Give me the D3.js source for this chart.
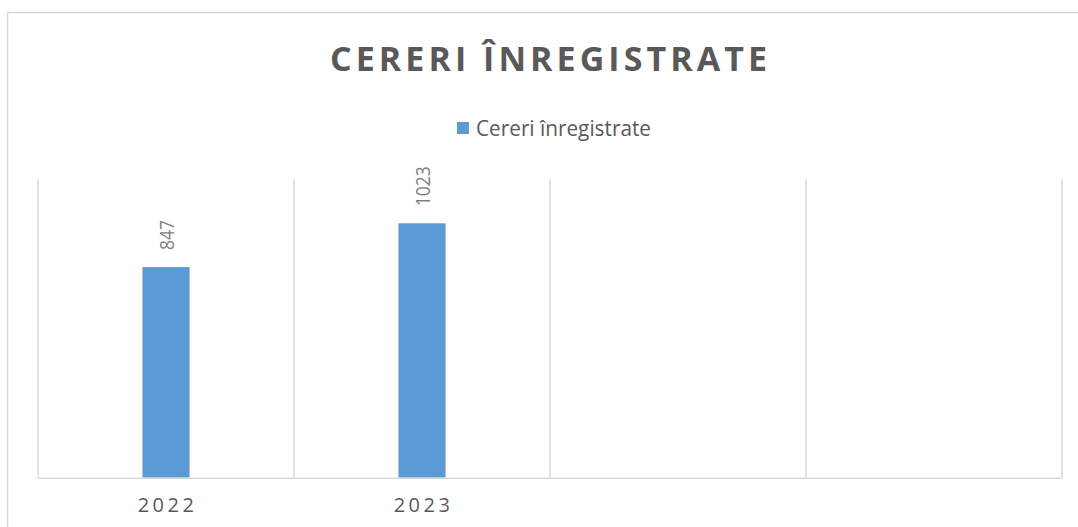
<!DOCTYPE html>
<html>
<head>
<meta charset="utf-8">
<script src="https://cdn.jsdelivr.net/npm/d3@7"></script>
<style>
  html, body { margin: 0; padding: 0; background: #fff; }
  svg { display: block; }
</style>
</head>
<body>
<svg id="chart" width="1078" height="527"></svg>
<script>
const chartTitle = "CERERI ÎNREGISTRATE";
const seriesName = "Cereri înregistrate";
const categories = ["2022", "2023", "", ""];
const values = [847, 1023, null, null];
const yDomain = [0, 1200];

const W = 1078, H = 527;
const margin = { left: 38, right: 16, top: 179.3, bottom: 49.3 };
const svg = d3.select("#chart");

// outer chart border (cropped at right/bottom)
svg.append("rect")
  .attr("x", 7.5).attr("y", 12.5)
  .attr("width", W + 20).attr("height", H + 20)
  .attr("fill", "none").attr("stroke", "#d9d9d9").attr("stroke-width", 1.5);

// title
svg.append("text")
  .attr("x", 548.5).attr("y", 71)
  .attr("text-anchor", "middle")
  .attr("font-family", "'Open Sans', sans-serif")
  .attr("font-weight", "bold")
  .attr("font-size", 34)
  .attr("fill", "#595959")
  .attr("textLength", 437)
  .attr("lengthAdjust", "spacing")
  .text(chartTitle);

// legend
svg.append("rect")
  .attr("x", 457).attr("y", 122).attr("width", 12).attr("height", 12)
  .attr("fill", "#5b9bd5");
svg.append("text")
  .attr("x", 476).attr("y", 136)
  .attr("font-family", "'Open Sans', sans-serif")
  .attr("font-size", 21)
  .attr("fill", "#595959")
  .attr("textLength", 175)
  .attr("lengthAdjust", "spacingAndGlyphs")
  .text(seriesName);

const x = d3.scaleBand()
  .domain(d3.range(categories.length))
  .range([margin.left, W - margin.right])
  .paddingInner(0).paddingOuter(0);

const y = d3.scaleLinear()
  .domain(yDomain)
  .range([H - margin.bottom, margin.top]);

// vertical gridlines at category boundaries
const bounds = d3.range(categories.length + 1).map(i => margin.left + i * x.step());
svg.append("g").selectAll("line").data(bounds).join("line")
  .attr("x1", d => d).attr("x2", d => d)
  .attr("y1", y(yDomain[1])).attr("y2", y(0))
  .attr("stroke", "#d9d9d9").attr("stroke-width", 1.5);

// bars
const barW = x.step() * 0.184;
const data = values.map((v, i) => ({ i, v })).filter(d => d.v != null);
svg.append("g").selectAll("rect").data(data).join("rect")
  .attr("x", d => x(d.i) + x.bandwidth() / 2 - barW / 2)
  .attr("y", d => y(d.v))
  .attr("width", barW)
  .attr("height", d => y(0) - y(d.v))
  .attr("fill", "#5b9bd5");

// value labels (rotated)
svg.append("g").selectAll("text").data(data).join("text")
  .attr("transform", d => `translate(${x(d.i) + x.bandwidth() / 2 + 0.5},${y(d.v) - 17}) rotate(-90)`)
  .attr("dy", "0.36em")
  .attr("font-family", "'Open Sans', sans-serif")
  .attr("font-size", 20)
  .attr("fill", "#7f7f7f")
  .attr("textLength", d => String(d.v).length * 10)
  .attr("lengthAdjust", "spacingAndGlyphs")
  .text(d => d.v);

// x axis
const xAxis = d3.axisBottom(x)
  .tickSize(0).tickSizeOuter(0)
  .tickFormat(i => categories[i]);
const gx = svg.append("g")
  .attr("transform", `translate(0,${y(0)})`)
  .call(xAxis);
gx.select(".domain")
  .attr("stroke", "#d9d9d9").attr("stroke-width", 1.5);
gx.selectAll(".tick text")
  .attr("y", 34.6).attr("dy", 0)
  .attr("font-family", "'Open Sans', sans-serif")
  .attr("font-size", 20)
  .attr("fill", "#595959")
  .attr("letter-spacing", "3.5px")
  .attr("dx", "1.5px");
</script>
</body>
</html>
